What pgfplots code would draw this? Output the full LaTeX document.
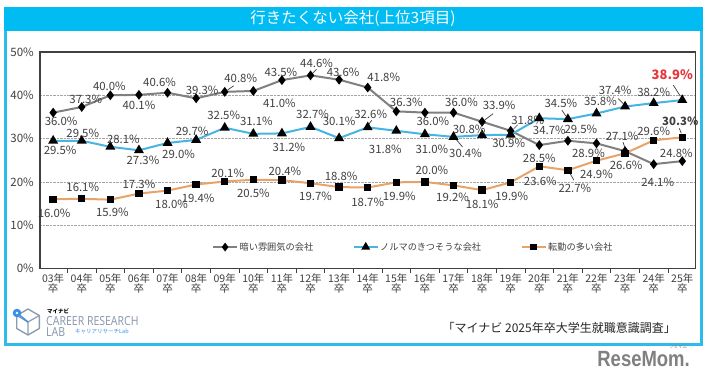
\documentclass[border=0pt]{standalone}
\usepackage{fontspec}
\setmainfont{Noto Sans CJK JP}
\newfontfamily\lib{Liberation Sans}
\newfontfamily\notosans{Noto Sans}
\usepackage{graphicx}
\usepackage{pgfplots}
\pgfplotsset{compat=1.18}
\pgfkeys{/pgf/number format/assume math mode=true}
\definecolor{banner}{HTML}{00BCF2}
\definecolor{frame}{HTML}{2EBBEA}
\definecolor{gline}{HTML}{808080}
\definecolor{bline}{HTML}{47B4E2}
\definecolor{oline}{HTML}{E8A468}
\definecolor{txt}{HTML}{404040}
\definecolor{red38}{HTML}{E8343C}
\definecolor{logo}{HTML}{8E9CB0}
\newcommand\labstn{\color{txt}}
\newcommand\labstb{\color{txt}\bfseries}
\newcommand\labstr{\color{red38}\bfseries\fontsize{13}{13}\selectfont}

\pgfplotsset{lab/.style={
  nodes near coords={\csname labst\lf\endcsname\pgfmathprintnumber[fixed,fixed zerofill,precision=1]{\pgfplotspointmeta}\%},
  point meta=y,
  visualization depends on={value \thisrow{dx}\as\ldx},
  visualization depends on={value \thisrow{dy}\as\ldy},
  visualization depends on={value \thisrow{f}\as\lf},
  every node near coord/.append style={font=\fontsize{11.4}{12}\selectfont, inner sep=0pt, anchor=center, xshift=\ldx pt, yshift=\ldy pt},
}}

\begin{document}
\begin{tikzpicture}
\useasboundingbox (0,0) rectangle (706pt,-380pt);
\fill[white] (0,0) rectangle (706pt,-380pt);
% frame and banner
\draw[frame, line width=3pt] (5.5pt,-8.5pt) rectangle (701.5pt,-344.5pt);
\fill[banner] (4pt,-7pt) rectangle (703pt,-31pt);
\node[white, font=\fontsize{15.5}{16}\selectfont] at (353pt,-19pt) {行きたくない会社(上位3項目)};

\begin{axis}[
  at={(40pt,-268.5pt)}, anchor=south west,
  scale only axis, width=655.7pt, height=216.5pt,
  clip=false,
  xmin=-0.46, xmax=22.47, ymin=0, ymax=50,
  axis line style={draw=txt, line width=1.3pt},
  xtick={0,...,22},
  xticklabels={{03年\\卒},{04年\\卒},{05年\\卒},{06年\\卒},{07年\\卒},{08年\\卒},{09年\\卒},{10年\\卒},{11年\\卒},{12年\\卒},{13年\\卒},{14年\\卒},{15年\\卒},{16年\\卒},{17年\\卒},{18年\\卒},{19年\\卒},{20年\\卒},{21年\\卒},{22年\\卒},{23年\\卒},{24年\\卒},{25年\\卒}},
  major tick length=0pt,
  minor xtick={0.5,1.5,...,21.5},
  minor tick length=4pt,
  tick align=outside,
  xtick pos=lower, ytick pos=left,
  every minor tick/.style={draw=txt, line width=0.8pt},
  xticklabel style={align=center, font=\fontsize{10.5}{10}\selectfont, text=txt, inner sep=0pt, yshift=-5pt},
  ytick={0,10,...,50},
  yticklabels={0\%,10\%,20\%,30\%,40\%,50\%},
  yticklabel style={font=\fontsize{11.5}{12}\selectfont, text=txt, inner sep=0pt, xshift=-6pt},
  ymajorgrids=true,
  major grid style={densely dotted, draw=gray!70, line width=0.7pt},
  legend style={at={(0.569,0.099)}, anchor=center, draw=none, fill=none,
    font=\fontsize{9.2}{10}\selectfont, text=txt,
    nodes={inner sep=1.5pt},
    /tikz/every even column/.append style={column sep=38pt}},
  legend columns=3,
  legend image code/.code={\draw[mark repeat=2,mark phase=2,#1] plot coordinates {(0pt,0pt) (12pt,0pt) (24pt,0pt)};},
]
\addlegendimage{gline, line width=2pt, mark=diamond*, mark size=2.8pt, mark options={draw=black, fill=black, solid}}
\addlegendentry{暗い雰囲気の会社}
\addlegendimage{bline, line width=2pt, mark=triangle*, mark size=3.2pt, mark options={draw=black, fill=black, solid}}
\addlegendentry{ノルマのきつそうな会社}
\addlegendimage{oline, line width=2pt, mark=square*, mark size=2.4pt, mark options={draw=black, fill=black, solid}}
\addlegendentry{転勤の多い会社}
\addplot[forget plot, lab, gline, line width=2pt, mark=diamond*, mark size=3.3pt, mark options={draw=black, fill=black, solid}] table[x=x,y=y] {
x y dx dy f
0 36.0 8 -8.5 n
1 37.3 4 8 n
2 40.0 -1 8.6 n
3 40.1 0 -10 n
4 40.6 -8 10 n
5 39.3 6 8 n
6 40.8 16 14 n
7 41.0 26 -12 n
8 43.5 -1 8 n
9 44.6 6 12 n
10 43.6 4 7 n
11 41.8 16 10 n
12 36.3 10 9 n
13 36.0 8 -8.5 n
14 36.0 8 10 n
15 33.9 17 16 n
16 31.8 17 10 n
17 28.5 0 -13 n
18 29.5 13 11 n
19 28.9 -8 -10 n
20 27.1 -3 15 n
21 24.1 4 -18 n
22 24.8 -6 8 n
};
\addplot[forget plot, lab, bline, line width=2pt, mark=triangle*, mark size=3.8pt, mark options={draw=black, fill=black, solid}] table[x=x,y=y] {
x y dx dy f
0 29.5 7 -10 n
1 29.5 1 7 n
2 28.1 13 8 n
3 27.3 4 -10.5 n
4 29.0 11 -11 n
5 29.7 -4 9 n
6 32.5 -1 12 n
7 31.1 3 13 n
8 31.2 7 -13.5 n
9 32.7 2 13 n
10 30.1 0 17 n
11 32.6 3 13 n
12 31.8 -11 -19 n
13 31.0 7 -15 n
14 30.4 12 -16 n
15 30.8 -13 6 n
16 30.9 -2 -9 n
17 34.7 10 -12 n
18 34.5 -7 16 n
19 35.8 4 12 n
20 37.4 -10 16 n
21 38.2 0 11 n
22 38.9 -10 25 r
};
\addplot[forget plot, lab, oline, line width=2pt, mark=square*, mark size=2.7pt, mark options={draw=black, fill=black, solid}] table[x=x,y=y] {
x y dx dy f
0 16.0 1 -14 n
1 16.1 1 11 n
2 15.9 2 -13 n
3 17.3 0 9 n
4 18.0 4 -14 n
5 19.4 2 -14 n
6 20.1 3 8 n
7 20.5 0 -14 n
8 20.4 3 9 n
9 19.7 5 -13 n
10 18.8 2 10.5 n
11 18.7 0 -14.5 n
12 19.9 3 -14 n
13 20.0 7 12 n
14 19.2 -1 -11.5 n
15 18.1 0 -14 n
16 19.9 1 -14 n
17 23.6 1 -15.5 n
18 22.7 7 -18 n
19 24.9 0 -14 n
20 26.6 1 -12 n
21 29.6 0 9 n
22 30.3 -2 16.5 b
};
% leader lines
\draw[txt, line width=0.7pt] (axis cs:6,40.8) ++(3pt,2pt) -- ++(6pt,4pt);
\draw[txt, line width=0.7pt] (axis cs:9,44.6) ++(2pt,2pt) -- ++(4pt,4pt);
\draw[txt, line width=0.7pt] (axis cs:15,33.9) ++(3pt,2pt) -- ++(8pt,6pt);
\draw[txt, line width=0.7pt] (axis cs:16,31.8) ++(3pt,2pt) -- ++(4pt,4pt);
\draw[txt, line width=0.7pt] (axis cs:20,27.1) ++(0pt,3pt) -- ++(-2pt,6pt);
\draw[txt, line width=0.7pt] (axis cs:11,32.6) ++(1pt,3pt) -- ++(3pt,4pt);
\draw[txt, line width=0.7pt] (axis cs:14,30.4) ++(3pt,-3pt) -- ++(6pt,-7pt);
\draw[txt, line width=0.7pt] (axis cs:18,34.5) ++(-2pt,3pt) -- ++(-4pt,6pt);
\draw[txt, line width=0.7pt] (axis cs:20,37.4) ++(-2pt,3pt) -- ++(-5pt,5pt);
\draw[txt, line width=0.7pt] (axis cs:22,38.9) ++(-2pt,4pt) -- ++(-7pt,11pt);
\draw[txt, line width=0.7pt] (axis cs:22,30.3) ++(-1pt,4pt) -- ++(-2pt,5pt);
\draw[txt, line width=0.7pt] (axis cs:18,22.7) ++(2pt,-3pt) -- ++(4pt,-7pt);
\end{axis}

% logo
\draw[logo, line width=1.4pt, line join=round] (28pt,-309pt) -- (39.3pt,-315.5pt) -- (39.3pt,-328.5pt) -- (28pt,-335pt) -- (16.7pt,-328.5pt) -- (16.7pt,-315.5pt) -- cycle;
\draw[logo, line width=1.2pt] (28pt,-322pt) -- (28pt,-335pt) (28pt,-322pt) -- (39.3pt,-315.5pt) (28pt,-322pt) -- (16.7pt,-315.5pt);
\draw[bline!80!blue, line width=1.4pt] (17pt,-313pt) -- (28pt,-322pt);
\fill[bline!80!blue] (17pt,-313pt) circle (4.3pt);
\fill[white] (17pt,-313pt) circle (1.4pt);
\node[anchor=west, inner sep=0pt, font=\fontsize{5.5}{6}\selectfont\bfseries, text=black] at (47pt,-311pt) {マイナビ};
\node[anchor=west, inner sep=0pt, font=\notosans\fontsize{12.5}{13}\selectfont, text=logo] at (46pt,-321pt) {\scalebox{0.84}[1]{CAREER RESEARCH}};
\node[anchor=west, inner sep=0pt, font=\notosans\fontsize{12.5}{13}\selectfont, text=logo] at (46pt,-332pt) {\scalebox{0.84}[1]{LAB}};
\node[anchor=west, inner sep=0pt, font=\fontsize{5.5}{6}\selectfont, text=bline!80!blue] at (75pt,-332pt) {キャリアリサーチLab};
% source
\node[anchor=east, inner sep=0pt, font=\fontsize{12}{13}\selectfont, text=black!85] at (676pt,-328pt) {「マイナビ 2025年卒大学生就職意識調査」};
% ReseMom
\node[anchor=base east, inner sep=0pt, text height=16pt, text depth=0pt, font=\lib\bfseries\fontsize{22}{22}\selectfont, text=gray] at (690pt,-366pt) {\scalebox{0.84}[1]{ReseMom.}};
\node[inner sep=0pt, font=\fontsize{4.5}{5}\selectfont, text=gray] at (678pt,-347pt) {リセマム};
\end{tikzpicture}
\end{document}
